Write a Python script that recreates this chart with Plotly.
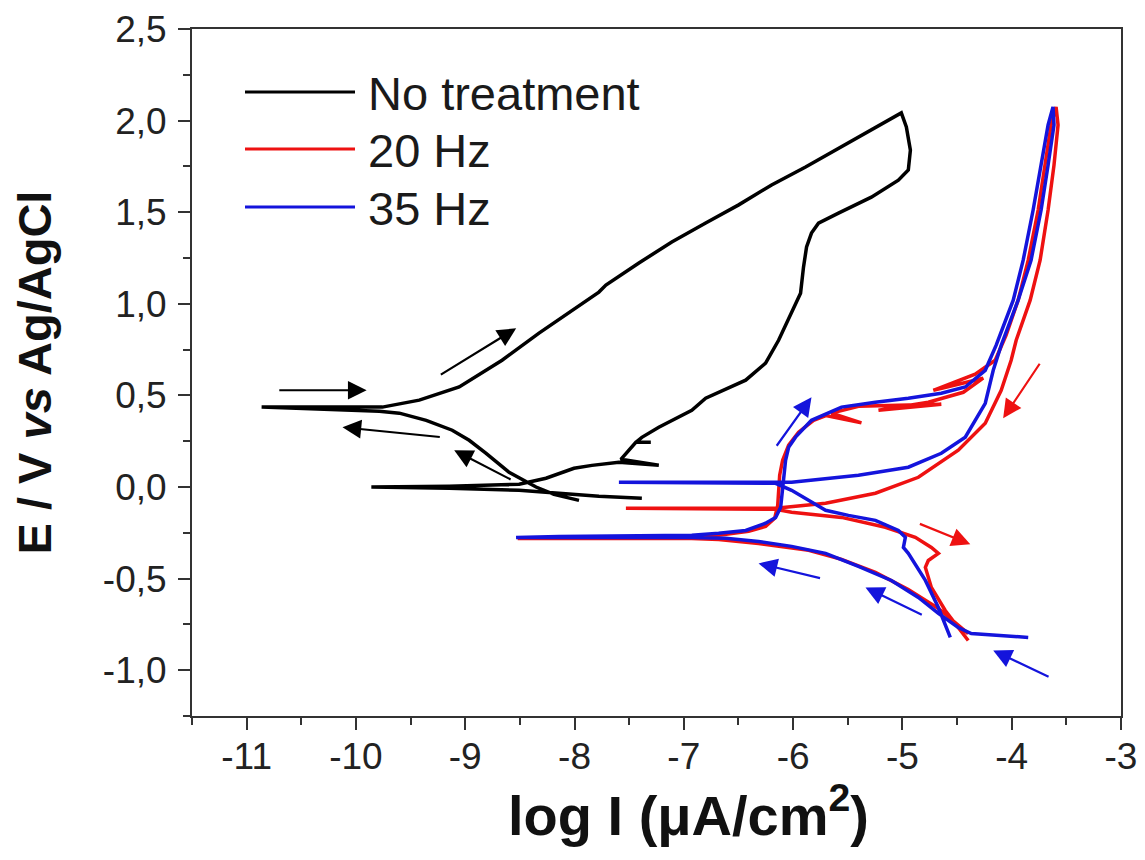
import plotly.graph_objects as go

# ---------------- data ----------------
SERIES_NAMES = ["No treatment", "20 Hz", "35 Hz"]
SERIES_COLORS = ["#000000", "#ee1111", "#1414dc"]

BLACK_X = [-7.384, -7.777, -8.142, -8.507, -9.147, -9.859, -9.147, -8.507, -8.261, -8.005,
           -7.841, -7.594, -7.229, -7.576, -7.439, -7.302, -7.439, -7.384, -7.229, -6.927,
           -6.800, -6.434, -6.252, -6.133, -6.014, -5.932, -5.905, -5.877, -5.832, -5.768,
           -5.585, -5.284, -5.037, -4.946, -4.927, -4.964, -5.010, -5.284, -5.585, -5.886,
           -6.197, -6.498, -6.800, -7.110, -7.411, -7.713, -7.777, -8.023, -8.325, -8.663,
           -9.055, -9.421, -9.758, -10.863, -10.334, -9.786, -9.603, -9.357, -9.119, -8.964,
           -8.809, -8.599, -8.352, -8.188, -7.959]
BLACK_Y = [-0.062, -0.051, -0.034, -0.018, -0.007, 0.000, 0.004, 0.015, 0.048, 0.102,
           0.118, 0.135, 0.119, 0.151, 0.244, 0.244, 0.244, 0.271, 0.326, 0.419,
           0.485, 0.583, 0.676, 0.801, 0.949, 1.058, 1.200, 1.310, 1.386, 1.440,
           1.495, 1.582, 1.675, 1.730, 1.839, 1.965, 2.042, 1.949, 1.851, 1.747,
           1.649, 1.540, 1.441, 1.337, 1.223, 1.102, 1.064, 0.965, 0.840, 0.692,
           0.546, 0.474, 0.436, 0.436, 0.425, 0.414, 0.403, 0.364, 0.310, 0.255,
           0.184, 0.080, 0.000, -0.040, -0.073]

RED_X = [-4.398, -4.489, -4.671, -4.946, -5.247, -5.557, -5.858, -6.316, -6.681, -6.927,
         -8.142, -8.520, -8.142, -6.927, -6.681, -6.407, -6.252, -6.169, -6.141, -6.132,
         -6.123, -6.096, -6.041, -5.950, -5.813, -5.700, -5.375, -5.649, -5.402, -5.037,
         -4.644, -5.219, -4.763, -4.443, -4.261, -4.717, -4.334, -4.151, -4.051, -3.941,
         -3.849, -3.758, -3.694, -3.640, -3.594, -3.576, -3.613, -3.667, -3.740, -3.831,
         -3.959, -4.005, -4.096, -4.242, -4.489, -4.854, -5.247, -5.703, -6.160, -7.530,
         -6.160, -6.014, -5.557, -5.156, -4.882, -4.735, -4.671, -4.763, -4.790, -4.735,
         -4.608, -4.489, -4.398]
RED_Y = [-0.800, -0.756, -0.663, -0.559, -0.466, -0.395, -0.346, -0.308, -0.286, -0.281,
         -0.281, -0.281, -0.276, -0.270, -0.264, -0.242, -0.215, -0.171, -0.100, -0.018,
         0.064, 0.146, 0.228, 0.299, 0.364, 0.390, 0.350, 0.403, 0.441, 0.446,
         0.452, 0.419, 0.463, 0.517, 0.594, 0.528, 0.616, 0.692, 0.829, 1.020,
         1.238, 1.512, 1.757, 1.976, 2.075, 1.976, 1.757, 1.512, 1.238, 1.020,
         0.801, 0.692, 0.528, 0.348, 0.201, 0.053, -0.034, -0.089, -0.116, -0.116,
         -0.122, -0.138, -0.166, -0.220, -0.275, -0.330, -0.362, -0.401, -0.439, -0.548,
         -0.674, -0.767, -0.838]

BLUE_X = [-3.849, -4.188, -4.370, -4.489, -4.671, -4.854, -5.101, -5.402, -5.703, -6.014,
          -6.316, -6.617, -6.927, -8.142, -8.535, -8.142, -6.927, -6.681, -6.434, -6.252,
          -6.160, -6.114, -6.096, -6.087, -6.069, -6.041, -5.978, -5.832, -5.557, -5.247,
          -4.946, -4.644, -4.425, -4.242, -4.142, -3.986, -3.895, -3.804, -3.731, -3.667,
          -3.622, -3.613, -3.667, -3.731, -3.823, -3.941, -4.096, -4.169, -4.242, -4.425,
          -4.644, -4.946, -5.402, -6.014, -6.160, -7.594, -6.160, -6.014, -5.703, -5.494,
          -5.247, -5.037, -4.973, -4.991, -4.946, -4.790, -4.671, -4.562]
BLUE_Y = [-0.821, -0.810, -0.800, -0.767, -0.690, -0.603, -0.510, -0.433, -0.362, -0.324,
          -0.297, -0.280, -0.275, -0.275, -0.275, -0.270, -0.264, -0.253, -0.237, -0.198,
          -0.166, -0.111, -0.018, 0.064, 0.146, 0.217, 0.272, 0.364, 0.436, 0.463,
          0.485, 0.512, 0.546, 0.637, 0.774, 1.020, 1.238, 1.512, 1.757, 1.976,
          2.075, 1.976, 1.757, 1.512, 1.238, 1.020, 0.774, 0.637, 0.457, 0.272,
          0.184, 0.108, 0.064, 0.026, 0.026, 0.026, 0.020, -0.018, -0.127, -0.155,
          -0.182, -0.237, -0.275, -0.330, -0.362, -0.510, -0.658, -0.821]

# scan-direction arrows: (tail_x, tail_y, head_x, head_y)
BLACK_ARROWS = [(-10.715, 0.528, -9.902, 0.528),
                (-9.237, 0.608, -8.534, 0.866),
                (-9.219, 0.272, -10.123, 0.326),
                (-8.571, 0.037, -9.101, 0.200)]
RED_ARROWS = [(-4.854, -0.198, -4.379, -0.313),
              (-3.735, 0.681, -4.078, 0.375)]
BLUE_ARROWS = [(-6.160, 0.217, -5.832, 0.490),
               (-5.740, -0.499, -6.316, -0.417),
               (-4.809, -0.701, -5.338, -0.548),
               (-3.649, -1.040, -4.169, -0.892)]

X_RANGE = [-11.5, -3.0]
Y_RANGE = [-1.25, 2.5]
X_TICKS = [-11, -10, -9, -8, -7, -6, -5, -4, -3]
X_TICK_LABELS = ["-11", "-10", "-9", "-8", "-7", "-6", "-5", "-4", "-3"]
Y_TICKS = [-1.0, -0.5, 0.0, 0.5, 1.0, 1.5, 2.0, 2.5]
Y_TICK_LABELS = ["-1,0", "-0,5", "0,0", "0,5", "1,0", "1,5", "2,0", "2,5"]
X_TITLE = "<b>log I (μA/cm<sup>2</sup>)</b>"
Y_TITLE = "<b>E / V <i>vs</i> Ag/AgCl</b>"

# ---------------- figure ----------------
FONT = "Liberation Sans, Arial, Helvetica, sans-serif"
PAGE_OFF = 8                      # default body margin of the html page
W, H = 1137, 852
ML, MR, MT, MB = 184, 24, 21, 144

plot_w = W - ML - MR
plot_h = H - MT - MB
def px_x(p):                      # page pixel -> paper coordinate
    return (p - PAGE_OFF - ML) / plot_w
def px_y(p):
    return (H - MB - (p - PAGE_OFF)) / plot_h

fig = go.Figure()
for name, color, xs, ys, w in [
    (SERIES_NAMES[0], SERIES_COLORS[0], BLACK_X, BLACK_Y, 3.5),
    (SERIES_NAMES[1], SERIES_COLORS[1], RED_X, RED_Y, 3.5),
    (SERIES_NAMES[2], SERIES_COLORS[2], BLUE_X, BLUE_Y, 3.5),
]:
    fig.add_trace(go.Scatter(x=xs, y=ys, mode="lines", name=name,
                             line=dict(color=color, width=w),
                             showlegend=False, hoverinfo="skip"))

annotations = []
for arrows, color in [(BLACK_ARROWS, SERIES_COLORS[0]), (RED_ARROWS, SERIES_COLORS[1]),
                      (BLUE_ARROWS, SERIES_COLORS[2])]:
    for tx, ty, hx, hy in arrows:
        annotations.append(dict(x=hx, y=hy, ax=tx, ay=ty, xref="x", yref="y",
                                axref="x", ayref="y", text="", showarrow=True,
                                arrowhead=2, arrowsize=1.7, arrowwidth=2.2,
                                arrowcolor=color, standoff=0, startstandoff=0))

# hand-drawn legend (long line samples as in the reference)
shapes = []
rows = [92, 149, 207]
for name, color, row in zip(SERIES_NAMES, SERIES_COLORS, rows):
    shapes.append(dict(type="line", xref="paper", yref="paper",
                       x0=px_x(245), x1=px_x(355), y0=px_y(row), y1=px_y(row),
                       line=dict(color=color, width=3.2)))
    annotations.append(dict(x=px_x(366), y=px_y(row + 1), xref="paper", yref="paper",
                            text=name, showarrow=False, xanchor="left", yanchor="middle",
                            font=dict(family=FONT, size=47, color="#1a1a1a")))

# x-axis title placed where the reference has it
annotations.append(dict(x=px_x(688), y=px_y(812), xref="paper", yref="paper",
                        text=X_TITLE, showarrow=False, xanchor="center", yanchor="middle",
                        font=dict(family=FONT, size=56, color="#111111")))

axis_common = dict(showline=True, linewidth=2, linecolor="#333333", mirror=True,
                   showgrid=False, zeroline=False, ticks="outside", ticklen=12,
                   tickwidth=2, tickcolor="#333333", automargin=False,
                   tickfont=dict(family=FONT, size=37, color="#222222"))

fig.update_layout(
    width=W, height=H,
    margin=dict(l=ML, r=MR, t=MT, b=MB, autoexpand=False),
    paper_bgcolor="white", plot_bgcolor="white",
    font=dict(family=FONT, color="#111111"),
    xaxis=dict(range=X_RANGE, tickvals=X_TICKS, ticktext=X_TICK_LABELS,
               minor=dict(dtick=0.5, ticks="outside", ticklen=7, tickwidth=2,
                          tickcolor="#333333", showgrid=False),
               ticklabelstandoff=-5,
               **axis_common),
    yaxis=dict(range=Y_RANGE, tickvals=Y_TICKS, ticktext=Y_TICK_LABELS,
               minor=dict(dtick=0.25, ticks="outside", ticklen=7, tickwidth=2,
                          tickcolor="#333333", showgrid=False),
               ticklabelstandoff=4,
               title=dict(text=Y_TITLE,
                          font=dict(family=FONT, size=47, color="#111111"), standoff=47),
               **axis_common),
    shapes=shapes,
    annotations=annotations,
)

fig.write_html("out.html")
